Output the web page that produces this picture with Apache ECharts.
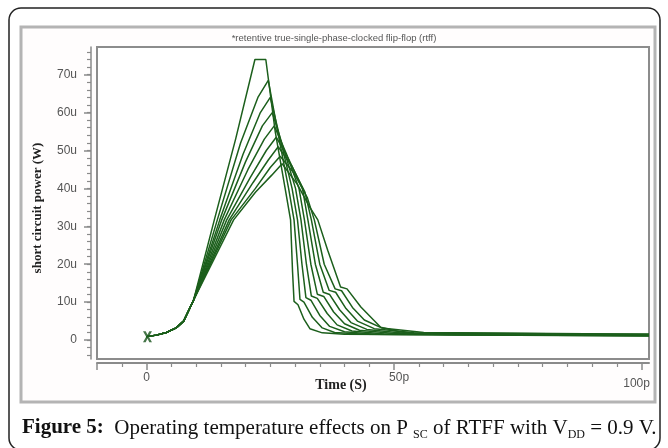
<!DOCTYPE html>
<html><head><meta charset="utf-8">
<script src="https://cdn.jsdelivr.net/npm/echarts@6/dist/echarts.min.js"></script>
<style>html,body{margin:0;padding:0;background:#fff}#c{width:668px;height:448px}</style>
</head><body><div id="c"></div>
<script>
// shared rising segment (time in ps, power in uW)
const riseT = [0, 2, 4, 6, 7.5, 9.5];
const riseV = [0.9, 1.3, 2.0, 3.2, 5.0, 10.5];

const c0T = [13.7, 18, 21.9, 24.1, 26.0, 28.0, 29.1, 29.5, 29.8, 30.6, 31.8, 33, 35.5, 40, 101.5];
const c0V = [31.7, 53, 74, 74, 55, 40, 31.7, 18, 10.2, 9.3, 5.5, 3, 1.9, 1.5, 1.05];
const c1T = [14.3, 19, 22.5, 24.6, 26.5, 28.7, 29.8, 30.5, 31.0, 31.8, 33.5, 35.5, 38, 44, 101.5];
const c1V = [31.7, 52, 64, 68.5, 55, 40, 31.7, 20, 10.7, 10.0, 6, 3.2, 2, 1.5, 1.1];
const c2T = [14.8, 19.5, 23, 25.0, 27.2, 29.4, 30.5, 31.4, 32.2, 33.2, 35, 37, 40, 46, 101.5];
const c2V = [31.7, 49, 60, 64, 52, 40, 31.7, 20, 11.2, 10.5, 6.5, 3.6, 2.2, 1.5, 1.2];
const c3T = [15.2, 20, 23.4, 25.4, 27.8, 30.1, 31.2, 32.3, 33.3, 34.5, 36.5, 38.5, 41.5, 48, 101.5];
const c3V = [31.7, 47, 56.5, 60, 50, 40, 31.7, 20, 11.6, 11, 7, 4, 2.4, 1.6, 1.25];
const c4T = [15.7, 20.5, 23.8, 25.8, 28.3, 30.8, 31.9, 33.2, 34.5, 35.8, 37.8, 40, 43, 50, 101.5];
const c4V = [31.7, 45, 53, 56.5, 49, 40, 31.7, 20, 12.1, 11.5, 7.4, 4.3, 2.6, 1.7, 1.3];
const c5T = [16.2, 21, 24.2, 26.2, 28.8, 31.5, 32.6, 34.1, 35.7, 37, 39, 41.3, 44.5, 52, 101.5];
const c5V = [31.7, 43, 50, 53.5, 47.5, 40, 31.7, 20, 12.6, 12, 8, 4.6, 2.8, 1.8, 1.35];
const c6T = [16.7, 21.5, 24.6, 26.6, 29.3, 32, 33.3, 35, 36.9, 38.2, 40.3, 42.6, 46, 54, 101.5];
const c6V = [31.7, 41.5, 47.5, 51, 46, 39, 31.7, 20, 13.1, 12.6, 8.3, 5, 3, 1.9, 1.45];
const c7T = [17.1, 22, 25, 27.0, 29.8, 32.5, 33.9, 35.9, 38.1, 39.4, 41.6, 44, 47.5, 56, 101.5];
const c7V = [31.7, 40, 45.5, 48.5, 44, 37.5, 31.7, 20, 13.5, 13, 8.6, 5.3, 3.2, 2, 1.5];
const c8T = [17.6, 22, 25.3, 27.4, 30.5, 33, 34.6, 36.6, 39.2, 40.5, 43.3, 47.3, 51.3, 55.3, 63, 101.5];
const c8V = [31.7, 39, 43.5, 46.5, 41, 35, 31.7, 23.7, 14, 13.5, 8.7, 3.4, 2.1, 1.6, 1.4, 1.55];

const curvesT = [c0T, c1T, c2T, c3T, c4T, c5T, c6T, c7T, c8T];
const curvesV = [c0V, c1V, c2V, c3V, c4V, c5V, c6V, c7V, c8V];

const startMarkT = [0.2];
const startMarkV = [0.9];

const yLabelVals = [0, 10, 20, 30, 40, 50, 60, 70];
const yMinorVals = [-4, -2, 0, 2, 4, 6, 8, 10, 12, 14, 16, 18, 20, 22, 24, 26, 28, 30, 32, 34, 36, 38, 40, 42, 44, 46, 48, 50, 52, 54, 56, 58, 60, 62, 64, 66, 68, 70, 72, 74, 76];
const xLabelVals = [0, 50, 100];
const xMajorTicks = [-10, 0, 50, 100];
const xMinorVals = [-5, 5, 10, 15, 20, 25, 30, 35, 40, 45, 55, 60, 65, 70, 75, 80, 85, 90, 95];

const LINE = '#1c5f1c';
const series = curvesT.map((ts, i) => ({
  type: 'line',
  xAxisIndex: 0, yAxisIndex: 0,
  showSymbol: false, symbol: 'none',
  lineStyle: { color: LINE, width: 1.5 },
  animation: false,
  data: riseT.map((t, k) => [t, riseV[k]]).concat(ts.map((t, k) => [t, curvesV[i][k]]))
}));
series.push({
  type: 'scatter', xAxisIndex: 0, yAxisIndex: 0, animation: false,
  symbol: 'path://M0,0 L3,0 L5,4 L7,0 L10,0 L6.5,6 L10,12 L7,12 L5,8 L3,12 L0,12 L3.5,6 Z',
  symbolSize: [9, 11],
  itemStyle: { color: '#17521a' },
  data: startMarkT.map((t, k) => [t, startMarkV[k]])
});

const chart = echarts.init(document.getElementById('c'), null, { renderer: 'canvas' });
const axisGray = '#8a8a8a';
const YMIN = -5, YMAX = 77.3;
chart.setOption({
  animation: false,
  backgroundColor: '#ffffff',
  grid: { left: 97, top: 47, width: 552, height: 312, show: true, borderColor: '#8c8c8c', borderWidth: 2, backgroundColor: '#ffffff', containLabel: false },
  xAxis: [
    {
      type: 'value', min: -10, max: 101.5, position: 'bottom', offset: 4,
      axisLine: { show: true, onZero: false, lineStyle: { color: axisGray, width: 2 } },
      axisTick: { show: true, customValues: xMajorTicks, length: 7, inside: false, lineStyle: { color: axisGray, width: 1.5 } },
      axisLabel: {
        customValues: xLabelVals, margin: 9, color: '#555', fontSize: 12, fontFamily: 'Liberation Sans',
        formatter: v => v === 0 ? '{a|0}' : (v === 50 ? '{b|50p}' : '{c|100p}'),
        rich: {
          a: { color: '#555', fontSize: 12, fontFamily: 'Liberation Sans' },
          b: { color: '#555', fontSize: 12, fontFamily: 'Liberation Sans', padding: [0, 0, 6, 10] },
          c: { color: '#555', fontSize: 12, fontFamily: 'Liberation Sans', padding: [6, 10, 0, 0] }
        }
      },
      splitLine: { show: false },
      name: 'Time (S)', nameLocation: 'middle', nameGap: 15, nameMoveOverlap: false,
      nameTextStyle: { fontFamily: 'Liberation Serif', fontWeight: 'bold', fontSize: 14, color: '#222', padding: [0, 64, 0, 0] }
    },
    {
      type: 'value', min: -10, max: 101.5, position: 'bottom', offset: 4,
      axisLine: { show: false, onZero: false },
      axisTick: { show: true, customValues: xMinorVals, length: 4, lineStyle: { color: axisGray, width: 1.2 } },
      axisLabel: { show: false },
      splitLine: { show: false }
    }
  ],
  yAxis: [
    {
      type: 'value', min: YMIN, max: YMAX, position: 'left', offset: 6,
      axisLine: { show: true, onZero: false, lineStyle: { color: axisGray, width: 1.5 } },
      axisTick: { show: true, customValues: yLabelVals, length: 7, lineStyle: { color: axisGray, width: 1.5 } },
      axisLabel: {
        customValues: yLabelVals, margin: 14, color: '#555', fontSize: 12, fontFamily: 'Liberation Sans',
        formatter: v => v === 0 ? '0' : v + 'u'
      },
      splitLine: { show: false },
      name: 'short circuit power (W)', nameLocation: 'middle', nameGap: 47, nameRotate: 90, nameMoveOverlap: false,
      nameTextStyle: { fontFamily: 'Liberation Serif', fontWeight: 'bold', fontSize: 13, color: '#222', padding: [0, 10, 0, 0] }
    },
    {
      type: 'value', min: YMIN, max: YMAX, position: 'left', offset: 6,
      axisLine: { show: false, onZero: false },
      axisTick: { show: true, customValues: yMinorVals, length: 4, lineStyle: { color: axisGray, width: 1.2 } },
      axisLabel: { show: false },
      splitLine: { show: false }
    }
  ],
  graphic: [
    { type: 'rect', z: -20, shape: { x: 9, y: 8, width: 651, height: 442, r: 12 }, style: { fill: '#ffffff', stroke: '#222', lineWidth: 1.5 } },
    { type: 'rect', z: -10, shape: { x: 21, y: 27, width: 634, height: 375 }, style: { fill: '#fffdfd', stroke: '#b4b4b4', lineWidth: 3 } },
    { type: 'text', z: 5, x: 334, y: 38, style: { text: '*retentive true-single-phase-clocked flip-flop (rtff)', fontFamily: 'Liberation Sans', fontSize: 9.5, fill: '#555', align: 'center', verticalAlign: 'middle' } },
    { type: 'text', z: 5, x: 22, y: 428, style: {
        text: '{b|Figure 5:}{r|  Operating temperature effects on P }{s|SC}{r| of RTFF with V}{s|DD}{r| = 0.9 V.}',
        verticalAlign: 'middle', align: 'left',
        rich: {
          b: { fontFamily: 'Liberation Serif', fontWeight: 'bold', fontSize: 21, lineHeight: 26, fill: '#111', verticalAlign: 'middle' },
          r: { fontFamily: 'Liberation Serif', fontSize: 21, lineHeight: 26, fill: '#111', verticalAlign: 'middle' },
          s: { fontFamily: 'Liberation Serif', fontSize: 12, lineHeight: 13, fill: '#111', verticalAlign: 'bottom' }
        }
    } }
  ],
  series: series
});
</script></body></html>
